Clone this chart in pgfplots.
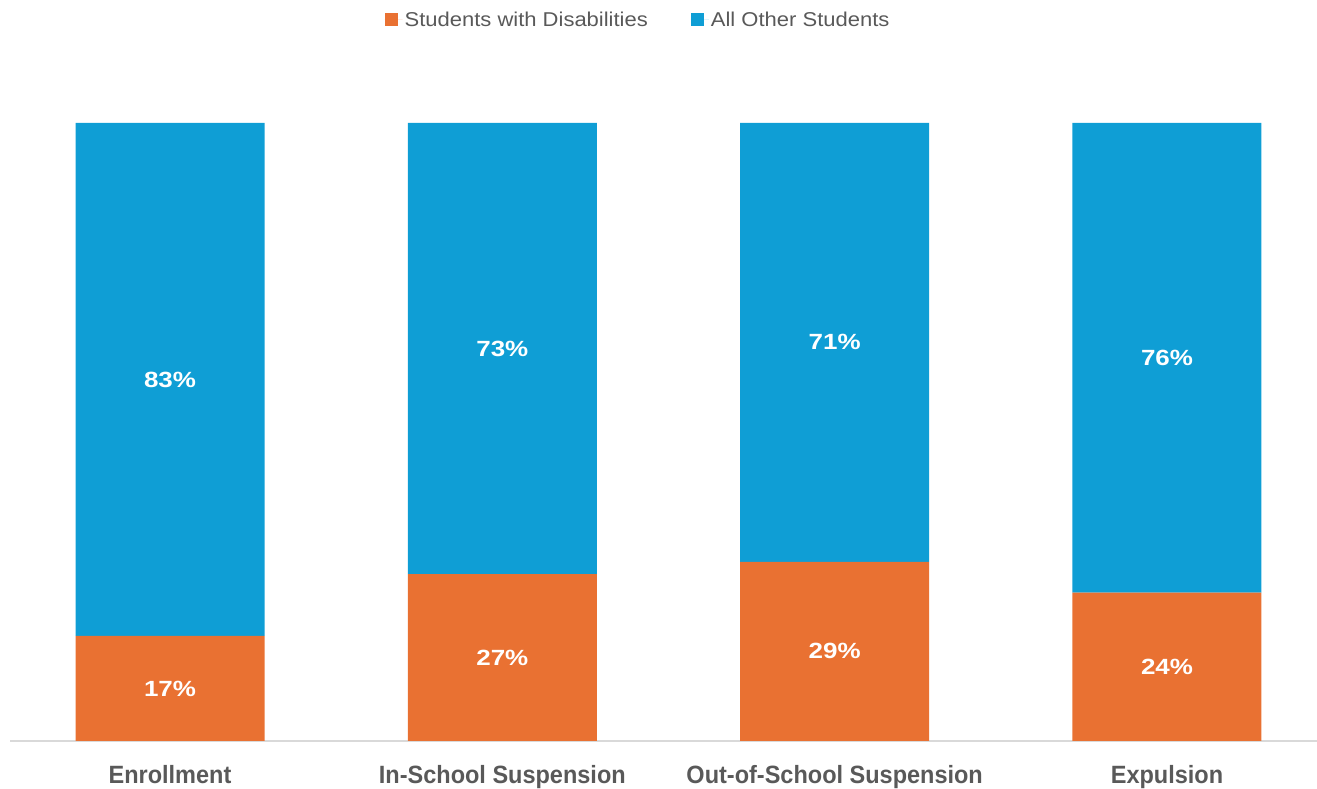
\documentclass[border=0pt]{standalone}
\usepackage{pgfplots}
\pgfplotsset{compat=1.18}
\usepackage{pgfplotstable}
\usepackage{fontspec}
\setmainfont{Liberation Sans}
\newfontfamily\labfont{Liberation Sans}[FakeStretch=0.94]
\newfontfamily\legfont{Liberation Sans}[FakeStretch=1.1]
\newfontfamily\valfont{Liberation Sans}[FakeStretch=1.18]
\definecolor{sdorange}{HTML}{E97132}
\definecolor{otherblue}{HTML}{0F9ED5}
\definecolor{txtgray}{HTML}{595959}
\definecolor{axgray}{HTML}{D9D9D9}

\pgfplotstableread{
idx sd other
0 17 83
1 27 73
2 29 71
3 24 76
}\datatable

\begin{document}
\begin{tikzpicture}
\begin{axis}[
  at={(0pt,0pt)}, anchor=south west,
  scale only axis, width=1307pt, height=618pt,
  xmin=-0.4815, xmax=3.4514, ymin=0, ymax=100,
  ybar stacked, bar width=189pt,
  axis y line=none, axis x line*=bottom,
  x axis line style={axgray, line width=1.5pt, -},
  xtick=data,
  xticklabels={Enrollment, In-School Suspension, Out-of-School Suspension, Expulsion},
  major tick length=0pt,
  xticklabel style={font=\labfont\bfseries\fontsize{25}{30}\selectfont, text=txtgray, anchor=base, yshift=-43pt},
  legend style={at={(axis description cs:0.4805,1.1667)}, anchor=center, draw=none, fill=none,
    font=\legfont\fontsize{20}{24}\selectfont, text=txtgray, legend columns=2,
    /tikz/every even column/.append style={column sep=41pt}},
  legend image code/.code={\fill[#1] (0pt,-6.5pt) rectangle (13pt,6.5pt); \path (0pt,0pt) -- (18pt,0pt);},
  /pgf/number format/assume math mode=true,
  nodes near coords={\pgfmathprintnumber{\pgfplotspointmeta}\%},
  every node near coord/.append style={font=\valfont\bfseries\fontsize{22}{26}\selectfont, text=white, anchor=center},
]
\addplot[fill=sdorange, draw=none, point meta=explicit] table[x=idx, y=sd, meta=sd] \datatable;
\addlegendentry{Students with Disabilities}
\addplot[fill=otherblue, draw=none, point meta=explicit] table[x=idx, y=other, meta=other] \datatable;
\addlegendentry{All Other Students}
\end{axis}
\pgfresetboundingbox
\path[use as bounding box] (-10pt,-48pt) rectangle (1307pt,741pt);
\end{tikzpicture}
\end{document}
